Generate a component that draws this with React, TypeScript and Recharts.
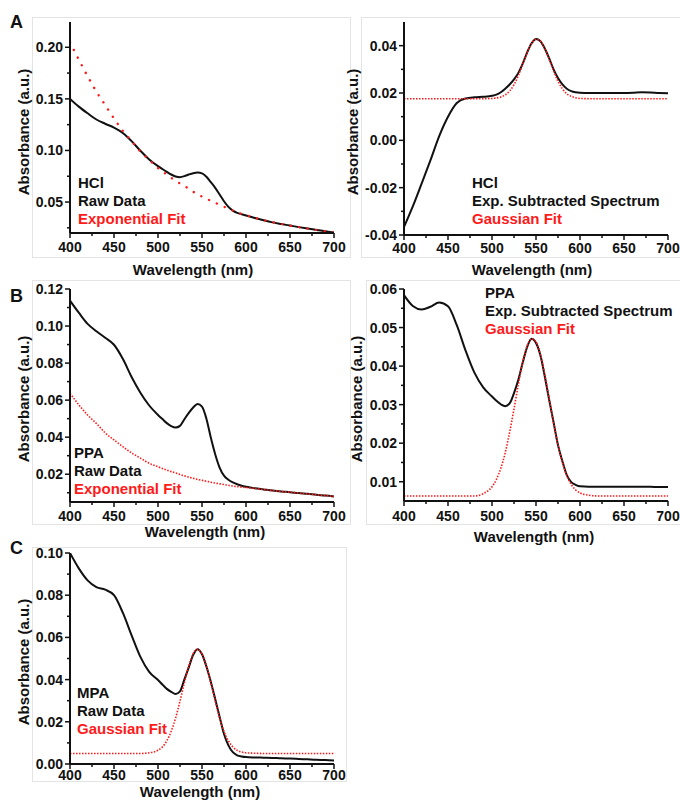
import React from 'react';
import { LineChart, Line, XAxis, YAxis, Label } from 'recharts';

// ---------- data ----------
const wavelength = [400, 410, 420, 430, 440, 450, 460, 470, 480, 490, 500, 505, 510, 515, 520, 525, 530, 535, 540, 545, 550, 555, 560, 565, 570, 575, 580, 585, 590, 595, 600, 610, 620, 630, 640, 650, 660, 670, 680, 690, 700];

// Panel A (HCl)
const hclRaw = [0.150, 0.1425, 0.136, 0.130, 0.1259, 0.1222, 0.117, 0.109, 0.0997, 0.0913, 0.0848, 0.0820, 0.0793, 0.0767, 0.0748, 0.0741, 0.0751, 0.0767, 0.0780, 0.0786, 0.0778, 0.0745, 0.0693, 0.0638, 0.0573, 0.0508, 0.0453, 0.0417, 0.0395, 0.0381, 0.0370, 0.0345, 0.0323, 0.0303, 0.0287, 0.0272, 0.0257, 0.0243, 0.0230, 0.0217, 0.0204];
const hclExpFit = [0.205, 0.188, 0.172, 0.157, 0.144, 0.131, 0.119, 0.109, 0.099, 0.091, 0.083, 0.080, 0.0765, 0.0735, 0.0705, 0.068, 0.0655, 0.063, 0.060, 0.0575, 0.0553, 0.0532, 0.0512, 0.0493, 0.0474, 0.0455, 0.0435, 0.0417, 0.0400, 0.0385, 0.0372, 0.0347, 0.0325, 0.0305, 0.0288, 0.0272, 0.0257, 0.0243, 0.0230, 0.0217, 0.0204];
const hclSubtracted = [-0.0366, -0.0279, -0.0183, -0.0085, 0.0018, 0.0100, 0.0158, 0.0177, 0.0182, 0.0184, 0.0188, 0.0193, 0.0203, 0.0218, 0.0236, 0.0258, 0.0285, 0.0325, 0.0372, 0.0410, 0.0428, 0.0419, 0.0388, 0.0346, 0.0300, 0.0263, 0.0236, 0.0218, 0.0208, 0.0203, 0.0201, 0.0200, 0.0200, 0.0200, 0.0200, 0.0200, 0.0201, 0.0203, 0.0202, 0.0200, 0.0199];
const hclGaussFit = [0.0176, 0.0176, 0.0176, 0.0176, 0.0176, 0.0176, 0.0176, 0.0176, 0.0176, 0.0176, 0.0177, 0.0179, 0.0183, 0.0192, 0.0208, 0.0235, 0.0274, 0.0322, 0.0371, 0.0409, 0.0427, 0.0419, 0.0388, 0.0342, 0.0293, 0.0250, 0.0218, 0.0197, 0.0186, 0.0180, 0.0177, 0.0176, 0.0176, 0.0176, 0.0176, 0.0176, 0.0176, 0.0176, 0.0176, 0.0176, 0.0176];

// Panel B (PPA)
const ppaRaw = [0.1137, 0.1072, 0.1012, 0.0972, 0.0937, 0.0899, 0.0823, 0.0725, 0.0640, 0.0571, 0.0520, 0.0498, 0.0476, 0.0460, 0.0452, 0.0461, 0.0497, 0.0531, 0.0560, 0.0579, 0.0565, 0.0500, 0.0398, 0.0308, 0.0236, 0.0192, 0.0170, 0.0156, 0.0146, 0.0138, 0.0132, 0.0124, 0.0118, 0.0112, 0.0107, 0.0103, 0.0098, 0.0094, 0.0089, 0.0085, 0.0080];
const ppaExpFit = [0.0637, 0.0575, 0.0520, 0.0474, 0.0423, 0.0385, 0.0349, 0.0315, 0.0287, 0.0259, 0.0240, 0.0231, 0.0222, 0.0214, 0.0207, 0.0199, 0.0191, 0.0184, 0.0178, 0.0172, 0.0167, 0.0162, 0.0157, 0.0152, 0.0148, 0.0144, 0.0140, 0.0136, 0.0133, 0.0130, 0.0128, 0.0123, 0.0118, 0.0112, 0.0107, 0.0103, 0.0098, 0.0094, 0.0089, 0.0085, 0.0080];
const ppaSubtracted = [0.0584, 0.0556, 0.0547, 0.0554, 0.0565, 0.0555, 0.0506, 0.0440, 0.0383, 0.0345, 0.0321, 0.0310, 0.0301, 0.0296, 0.0303, 0.0330, 0.0365, 0.0410, 0.0450, 0.0471, 0.0460, 0.0428, 0.0373, 0.0312, 0.0254, 0.0195, 0.0153, 0.0117, 0.0099, 0.0092, 0.0088, 0.0087, 0.0087, 0.0087, 0.0087, 0.0087, 0.0087, 0.0087, 0.0087, 0.0086, 0.0086];
const ppaGaussFit = [0.0063, 0.0063, 0.0063, 0.0063, 0.0063, 0.0063, 0.0063, 0.0063, 0.0063, 0.0069, 0.0087, 0.0106, 0.0135, 0.0175, 0.0228, 0.0289, 0.0353, 0.0411, 0.0453, 0.0471, 0.0463, 0.0430, 0.0378, 0.0315, 0.0252, 0.0195, 0.0150, 0.0116, 0.0093, 0.0079, 0.0071, 0.0065, 0.0063, 0.0063, 0.0063, 0.0063, 0.0063, 0.0063, 0.0063, 0.0063, 0.0063];

// Panel C (MPA)
const mpaRaw = [0.1000, 0.0927, 0.0870, 0.0838, 0.0826, 0.0800, 0.0717, 0.0610, 0.0508, 0.0437, 0.0398, 0.0377, 0.0356, 0.0342, 0.0332, 0.0344, 0.0401, 0.0458, 0.0517, 0.0544, 0.0520, 0.0462, 0.0390, 0.0308, 0.0224, 0.0142, 0.0088, 0.0056, 0.0041, 0.0036, 0.0033, 0.0031, 0.0030, 0.0029, 0.0027, 0.0026, 0.0024, 0.0022, 0.0020, 0.0019, 0.0017];
const mpaGaussFit = [0.0050, 0.0050, 0.0050, 0.0050, 0.0050, 0.0050, 0.0050, 0.0050, 0.0050, 0.0053, 0.0065, 0.0081, 0.0110, 0.0155, 0.0218, 0.0298, 0.0385, 0.0466, 0.0523, 0.0544, 0.0523, 0.0466, 0.0385, 0.0298, 0.0218, 0.0155, 0.0110, 0.0081, 0.0065, 0.0057, 0.0053, 0.0051, 0.0050, 0.0050, 0.0050, 0.0050, 0.0050, 0.0050, 0.0050, 0.0050, 0.0050];

// ticks
const xTicks = [400, 425, 450, 475, 500, 525, 550, 575, 600, 625, 650, 675, 700];
const xMajor = [400, 450, 500, 550, 600, 650, 700];

const yTicksA1 = [0.025, 0.05, 0.075, 0.1, 0.125, 0.15, 0.175, 0.2];
const yMajorA1 = [0.05, 0.1, 0.15, 0.2];
const yTicksA2 = [-0.04, -0.03, -0.02, -0.01, 0, 0.01, 0.02, 0.03, 0.04];
const yMajorA2 = [-0.04, -0.02, 0, 0.02, 0.04];
const yTicksB1 = [0.01, 0.02, 0.03, 0.04, 0.05, 0.06, 0.07, 0.08, 0.09, 0.1, 0.11, 0.12];
const yMajorB1 = [0.02, 0.04, 0.06, 0.08, 0.1, 0.12];
const yTicksB2 = [0.01, 0.015, 0.02, 0.025, 0.03, 0.035, 0.04, 0.045, 0.05, 0.055, 0.06];
const yMajorB2 = [0.01, 0.02, 0.03, 0.04, 0.05, 0.06];
const yTicksC = [0, 0.01, 0.02, 0.03, 0.04, 0.05, 0.06, 0.07, 0.08, 0.09, 0.1];
const yMajorC = [0, 0.02, 0.04, 0.06, 0.08, 0.1];

// ---------- styling ----------
const FONT = '"Liberation Sans", Arial, Helvetica, sans-serif';
const RED = '#ff1a1a';
const tickStyle: React.CSSProperties = { fontFamily: FONT, fontWeight: 700, fontSize: 14, fill: '#111' };
const axisLabelStyle: React.CSSProperties = { fontFamily: FONT, fontWeight: 700, fontSize: 15, fill: '#111' };

const makeRows = (a: number[], b: number[]) =>
  wavelength.map((wl, i) => ({ wl, main: a[i], fit: b[i] }));

const makeXTick = (offset: number) => (props: any) => {
  const { x, y, payload } = props;
  const major = xMajor.includes(payload.value);
  return (
    <g>
      <line x1={x} y1={y} x2={x} y2={y + (major ? 5 : 3)} stroke="#111" strokeWidth={1.5} />
      {major && (
        <text x={x} y={y + offset} textAnchor="middle" style={tickStyle}>
          {payload.value}
        </text>
      )}
    </g>
  );
};

const makeYTick = (majors: number[]) => (props: any) => {
  const { x, y, payload } = props;
  const major = majors.some((m) => Math.abs(m - payload.value) < 1e-9);
  return (
    <g>
      <line x1={x} y1={y} x2={x - (major ? 5 : 3)} y2={y} stroke="#111" strokeWidth={1.5} />
      {major && (
        <text x={x - 7} y={y} dy="0.36em" textAnchor="end" style={tickStyle}>
          {Number(payload.value).toFixed(2)}
        </text>
      )}
    </g>
  );
};

type PanelProps = {
  left: number;
  top: number;
  width: number;
  height: number;
  marginTop: number;
  marginRight: number;
  yWidth: number;
  xHeight: number;
  yDomain: [number, number];
  yTicks: number[];
  yMajor: number[];
  rows: { wl: number; main: number; fit: number }[];
  fitDash: string;
  fitWidth: number;
  fitCap: 'round' | 'butt';
  yLabel: [number, number];
  xLabel: [number, number];
  xTickOffset: number;
};

const Panel = (p: PanelProps) => (
  <div style={{ position: 'absolute', left: p.left, top: p.top }}>
    <LineChart
      width={p.width}
      height={p.height}
      data={p.rows}
      margin={{ top: p.marginTop, right: p.marginRight, left: 0, bottom: 0 }}
    >
      <XAxis
        dataKey="wl"
        type="number"
        domain={[400, 700]}
        ticks={xTicks}
        interval={0}
        height={p.xHeight}
        tickSize={0}
        tickMargin={0}
        tickLine={false}
        axisLine={{ stroke: '#111', strokeWidth: 2 }}
        tick={makeXTick(p.xTickOffset)}
        allowDataOverflow
      >
        <Label
          content={() => (
            <text x={p.xLabel[0]} y={p.xLabel[1]} textAnchor="middle" style={axisLabelStyle}>
              Wavelength (nm)
            </text>
          )}
        />
      </XAxis>
      <YAxis
        type="number"
        domain={p.yDomain}
        ticks={p.yTicks}
        interval={0}
        width={p.yWidth}
        tickSize={0}
        tickMargin={0}
        tickLine={false}
        axisLine={{ stroke: '#111', strokeWidth: 2 }}
        tick={makeYTick(p.yMajor)}
        allowDataOverflow
      >
        <Label
          content={() => (
            <text
              x={p.yLabel[0]}
              y={p.yLabel[1]}
              dy="0.36em"
              textAnchor="middle"
              transform={`rotate(-90 ${p.yLabel[0]} ${p.yLabel[1]})`}
              style={axisLabelStyle}
            >
              Absorbance (a.u.)
            </text>
          )}
        />
      </YAxis>
      <Line
        type="monotone"
        dataKey="main"
        stroke="#111"
        strokeWidth={2}
        dot={false}
        activeDot={false}
        isAnimationActive={false}
      />
      <Line
        type="monotone"
        dataKey="fit"
        stroke={RED}
        strokeWidth={p.fitWidth}
        strokeDasharray={p.fitDash}
        strokeLinecap={p.fitCap}
        dot={false}
        activeDot={false}
        isAnimationActive={false}
      />
    </LineChart>
  </div>
);

const Note = ({ left, top, lines }: { left: number; top: number; lines: { t: string; red?: boolean }[] }) => (
  <div
    style={{
      position: 'absolute',
      left,
      top,
      fontFamily: FONT,
      fontWeight: 700,
      fontSize: 15,
      lineHeight: '18px',
      whiteSpace: 'nowrap',
    }}
  >
    {lines.map((l, i) => (
      <div key={i} style={{ color: l.red ? RED : '#111' }}>
        {l.t}
      </div>
    ))}
  </div>
);

const Letter = ({ left, top, ch }: { left: number; top: number; ch: string }) => (
  <div
    style={{
      position: 'absolute',
      left,
      top,
      fontFamily: FONT,
      fontWeight: 700,
      fontSize: 18,
      lineHeight: '18px',
      color: '#111',
    }}
  >
    {ch}
  </div>
);

const Box = ({ l, t, r, b }: { l: number; t: number; r: number; b: number }) => (
  <div
    style={{
      position: 'absolute',
      left: l,
      top: t,
      width: r - l,
      height: b - t,
      border: '1px solid #e4e4e4',
      boxSizing: 'border-box',
    }}
  />
);

export default function App() {
  return (
    <div
      style={{
        position: 'absolute',
        left: 0,
        top: 0,
        width: 680,
        height: 807,
        background: '#fff',
        overflow: 'hidden',
      }}
    >
      <Box l={32} t={17} r={351} b={258} />
      <Box l={361} t={17} r={690} b={258} />
      <Box l={32} t={280} r={351} b={525} />
      <Box l={366} t={280} r={690} b={525} />
      <Box l={32} t={547} r={347} b={782} />

      <Letter left={10} top={13} ch="A" />
      <Letter left={10} top={287} ch="B" />
      <Letter left={10} top={539} ch="C" />

      {/* A left */}
      <Panel
        left={0}
        top={0}
        width={352}
        height={285}
        marginTop={22}
        marginRight={18}
        yWidth={70}
        xHeight={52}
        yDomain={[0.02, 0.2245]}
        yTicks={yTicksA1}
        yMajor={yMajorA1}
        rows={makeRows(hclRaw, hclExpFit)}
        fitDash="0.1 8.5"
        fitWidth={2.4}
        fitCap="round"
        yLabel={[24, 132]}
        xLabel={[193, 275]}
        xTickOffset={19}
      />
      {/* A right */}
      <Panel
        left={340}
        top={0}
        width={340}
        height={285}
        marginTop={22}
        marginRight={12}
        yWidth={64}
        xHeight={50}
        yDomain={[-0.04, 0.05]}
        yTicks={yTicksA2}
        yMajor={yMajorA2}
        rows={makeRows(hclSubtracted, hclGaussFit)}
        fitDash="1.5 1.5"
        fitWidth={1.6}
        fitCap="butt"
        yLabel={[13, 132]}
        xLabel={[192, 275]}
        xTickOffset={18}
      />
      {/* B left */}
      <Panel
        left={0}
        top={270}
        width={352}
        height={280}
        marginTop={19}
        marginRight={18}
        yWidth={70}
        xHeight={48}
        yDomain={[0.005, 0.12]}
        yTicks={yTicksB1}
        yMajor={yMajorB1}
        rows={makeRows(ppaRaw, ppaExpFit)}
        fitDash="1.5 1.5"
        fitWidth={1.6}
        fitCap="butt"
        yLabel={[24, 129]}
        xLabel={[205, 267]}
        xTickOffset={19}
      />
      {/* B right */}
      <Panel
        left={340}
        top={270}
        width={340}
        height={280}
        marginTop={19}
        marginRight={12}
        yWidth={64}
        xHeight={49}
        yDomain={[0.005, 0.06]}
        yTicks={yTicksB2}
        yMajor={yMajorB2}
        rows={makeRows(ppaSubtracted, ppaGaussFit)}
        fitDash="1.5 1.5"
        fitWidth={1.6}
        fitCap="butt"
        yLabel={[17, 129]}
        xLabel={[194, 272]}
        xTickOffset={20}
      />
      {/* C */}
      <Panel
        left={0}
        top={535}
        width={352}
        height={272}
        marginTop={18}
        marginRight={18}
        yWidth={70}
        xHeight={43}
        yDomain={[0, 0.1]}
        yTicks={yTicksC}
        yMajor={yMajorC}
        rows={makeRows(mpaRaw, mpaGaussFit)}
        fitDash="1.5 1.5"
        fitWidth={1.6}
        fitCap="butt"
        yLabel={[24, 127]}
        xLabel={[200, 262]}
        xTickOffset={16}
      />

      <Note left={78} top={174} lines={[{ t: 'HCl' }, { t: 'Raw Data' }, { t: 'Exponential Fit', red: true }]} />
      <Note left={472} top={174} lines={[{ t: 'HCl' }, { t: 'Exp. Subtracted Spectrum' }, { t: 'Gaussian Fit', red: true }]} />
      <Note left={74} top={444} lines={[{ t: 'PPA' }, { t: 'Raw Data' }, { t: 'Exponential Fit', red: true }]} />
      <Note left={485} top={284} lines={[{ t: 'PPA' }, { t: 'Exp. Subtracted Spectrum' }, { t: 'Gaussian Fit', red: true }]} />
      <Note left={77} top={684} lines={[{ t: 'MPA' }, { t: 'Raw Data' }, { t: 'Gaussian Fit', red: true }]} />
    </div>
  );
}
